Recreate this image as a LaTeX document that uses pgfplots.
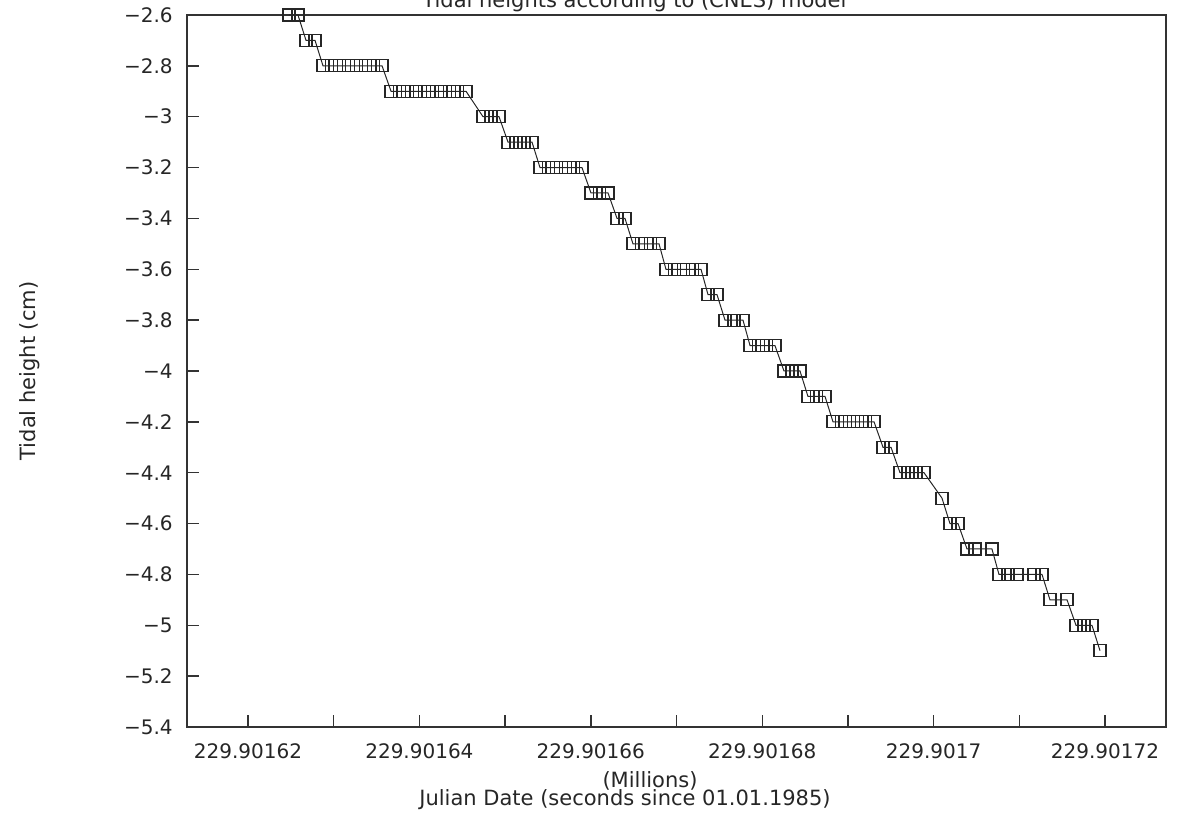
\documentclass[border=0pt]{standalone}
\usepackage{fontspec}
\setmainfont{DejaVu Sans}
\usepackage{pgfplots}
\pgfplotsset{compat=1.18}
\usepackage{pgfplotstable}

\pgfplotstableread{
t h
24.78 -2.6
25.83 -2.6
26.77 -2.7
27.82 -2.7
28.75 -2.8
29.73 -2.8
30.72 -2.8
31.70 -2.8
32.69 -2.8
33.67 -2.8
34.66 -2.8
35.64 -2.8
36.69 -2.9
37.66 -2.9
38.63 -2.9
39.61 -2.9
40.58 -2.9
41.55 -2.9
42.52 -2.9
43.49 -2.9
44.47 -2.9
45.44 -2.9
47.42 -3.0
48.36 -3.0
49.29 -3.0
50.34 -3.1
51.27 -3.1
52.21 -3.1
53.14 -3.1
54.07 -3.2
55.05 -3.2
56.03 -3.2
57.01 -3.2
57.99 -3.2
58.97 -3.2
60.02 -3.3
61.02 -3.3
62.01 -3.3
63.06 -3.4
63.99 -3.4
64.92 -3.5
65.93 -3.5
66.95 -3.5
67.96 -3.5
68.77 -3.6
69.79 -3.6
70.82 -3.6
71.84 -3.6
72.86 -3.6
73.68 -3.7
74.73 -3.7
75.66 -3.8
76.71 -3.8
77.76 -3.8
78.58 -3.9
79.55 -3.9
80.52 -3.9
81.49 -3.9
82.54 -4.0
83.48 -4.0
84.41 -4.0
85.34 -4.1
86.34 -4.1
87.33 -4.1
88.26 -4.2
89.22 -4.2
90.18 -4.2
91.13 -4.2
92.09 -4.2
93.05 -4.2
94.10 -4.3
95.03 -4.3
96.08 -4.4
97.01 -4.4
97.95 -4.4
98.88 -4.4
100.98 -4.5
101.91 -4.6
102.85 -4.6
103.90 -4.7
104.83 -4.7
106.81 -4.7
107.63 -4.8
108.68 -4.8
109.73 -4.8
111.72 -4.8
112.65 -4.8
113.58 -4.9
115.57 -4.9
116.62 -5.0
117.55 -5.0
118.48 -5.0
119.42 -5.1
}\tidedata

\begin{document}
\begin{tikzpicture}
\begin{axis}[
  name=ax,
  scale only axis,
  width=489.5pt, height=356pt,
  xmin=12.88, xmax=127.12,
  ymin=-5.4, ymax=-2.6,
  clip=false,
  axis line style={line width=0.7pt, black!80},
  xtick={20,40,60,80,100,120},
  xticklabels={229.90162,229.90164,229.90166,229.90168,229.9017,229.90172},
  minor xtick={30,50,70,90,110},
  ytick={-2.6,-2.8,-3,-3.2,-3.4,-3.6,-3.8,-4,-4.2,-4.4,-4.6,-4.8,-5,-5.2,-5.4},
  yticklabels={−2.6,−2.8,−3,−3.2,−3.4,−3.6,−3.8,−4,−4.2,−4.4,−4.6,−4.8,−5,−5.2,−5.4},
  tick align=inside,
  xtick pos=left, ytick pos=left,
  major tick length=6pt, minor tick length=6pt,
  every tick/.style={line width=0.7pt, black!80},
  tick label style={font=\fontsize{10}{12}\selectfont, text=black!85},
  xticklabel style={anchor=base, yshift=-16pt},
  yticklabel style={anchor=east, inner sep=0pt, xshift=-7pt},
]
\addplot[black!85, line width=0.5pt, mark=square, mark size=3pt,
  mark options={line width=0.6pt, solid}] table[x=t, y=h] {\tidedata};
\end{axis}
\node[anchor=base west, inner sep=0pt, font=\fontsize{10.5}{12}\selectfont, text=black!85]
  at ([xshift=117.5pt, yshift=3.5pt]ax.north west) {Tidal heights according to (CNES) model};
\node[rotate=90, inner sep=0pt, font=\fontsize{10.5}{12}\selectfont, text=black!85]
  at ([xshift=-78.5pt]ax.west) {Tidal height (cm)};
\node[anchor=base, inner sep=0pt, font=\fontsize{10.5}{12}\selectfont, text=black!85]
  at ([xshift=231.5pt, yshift=-30pt]ax.south west) {(Millions)};
\node[anchor=base, inner sep=0pt, font=\fontsize{10.5}{12}\selectfont, text=black!85]
  at ([xshift=219pt, yshift=-39pt]ax.south west) {Julian Date (seconds since 01.01.1985)};
\pgfresetboundingbox
\path[use as bounding box] ([xshift=-93.5pt,yshift=-43pt]ax.south west) rectangle ([xshift=5.5pt,yshift=7.5pt]ax.north east);
\end{tikzpicture}
\end{document}
